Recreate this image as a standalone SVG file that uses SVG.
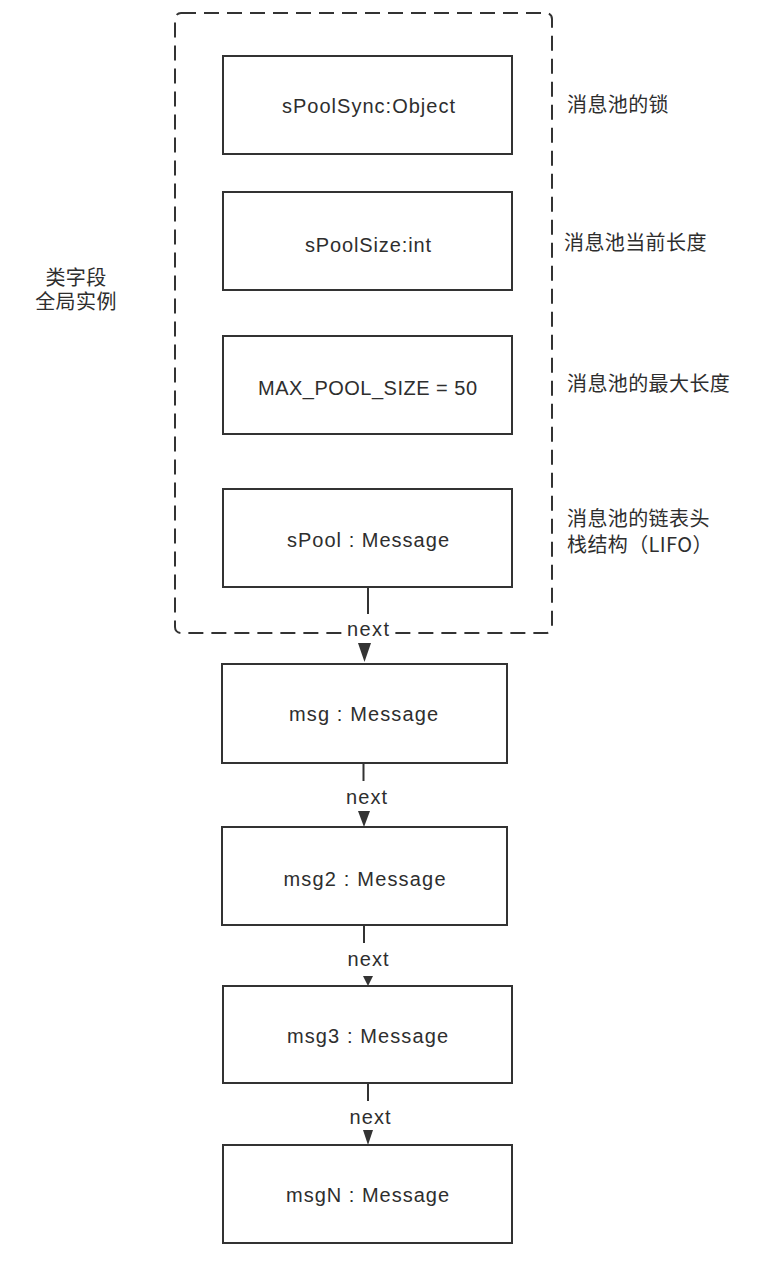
<svg xmlns="http://www.w3.org/2000/svg" width="764" height="1264" viewBox="0 0 764 1264">
  <style>
    .box { fill: #ffffff; stroke: #333333; stroke-width: 2; }
    .group { fill: none; stroke: #333333; stroke-width: 2; stroke-dasharray: 15 8; }
    .lbl { font-family: "Liberation Sans", Arial, "Noto Sans CJK SC", sans-serif; font-size: 20px; fill: #2e2e2e; text-anchor: middle; }
    .cjk { font-family: "Noto Sans CJK SC", "Liberation Sans", sans-serif; font-size: 20px; fill: #2e2e2e; letter-spacing: 0.4px; }
    .edge { stroke: #333333; stroke-width: 2; fill: none; }
    .head { fill: #333333; stroke: none; }
    .elbl { font-family: "Liberation Sans", Arial, sans-serif; font-size: 20px; fill: #2e2e2e; text-anchor: middle; }
  </style>

  <g id="group-class-fields">
    <rect class="group" x="175" y="13" width="377" height="620" rx="6" ry="6"/>
  </g>

  <g id="label-left">
    <text class="cjk" text-anchor="middle"><tspan x="76" y="285">类字段</tspan><tspan x="76" y="309">全局实例</tspan></text>
  </g>

  <g id="node-sPoolSync">
    <rect class="box" x="223" y="56" width="289" height="98"/>
    <text class="lbl" x="368.5" y="113" textLength="173" lengthAdjust="spacing">sPoolSync:Object</text>
  </g>
  <g id="note-sPoolSync">
    <text class="cjk" x="567" y="112">消息池的锁</text>
  </g>

  <g id="node-sPoolSize">
    <rect class="box" x="223" y="192" width="289" height="98"/>
    <text class="lbl" x="368" y="252" textLength="126" lengthAdjust="spacing">sPoolSize:int</text>
  </g>
  <g id="note-sPoolSize">
    <text class="cjk" x="564" y="250">消息池当前长度</text>
  </g>

  <g id="node-max">
    <rect class="box" x="223" y="336" width="289" height="98"/>
    <text class="lbl" x="367.5" y="395" textLength="219" lengthAdjust="spacing">MAX_POOL_SIZE = 50</text>
  </g>
  <g id="note-max">
    <text class="cjk" x="567" y="391">消息池的最大长度</text>
  </g>

  <g id="node-sPool">
    <rect class="box" x="223" y="489" width="289" height="98"/>
    <text class="lbl" x="368" y="547" textLength="162" lengthAdjust="spacing">sPool : Message</text>
  </g>
  <g id="note-sPool">
    <text class="cjk"><tspan x="567" y="526">消息池的链表头</tspan><tspan x="567" y="552">栈结构（LIFO）</tspan></text>
  </g>

  <g id="node-msg">
    <rect class="box" x="222" y="664" width="285" height="99"/>
    <text class="lbl" x="363.5" y="721" textLength="149" lengthAdjust="spacing">msg : Message</text>
  </g>

  <g id="node-msg2">
    <rect class="box" x="222" y="827" width="285" height="98"/>
    <text class="lbl" x="364.5" y="886" textLength="162" lengthAdjust="spacing">msg2 : Message</text>
  </g>

  <g id="node-msg3">
    <rect class="box" x="223" y="986" width="289" height="97"/>
    <text class="lbl" x="367.5" y="1043" textLength="161" lengthAdjust="spacing">msg3 : Message</text>
  </g>

  <g id="node-msgN">
    <rect class="box" x="223" y="1145" width="289" height="98"/>
    <text class="lbl" x="367.5" y="1202" textLength="163" lengthAdjust="spacing">msgN : Message</text>
  </g>

  <g id="connectors">
    <line class="edge" x1="368" y1="587" x2="368" y2="614"/>
    <rect x="345" y="620" width="46" height="16" fill="#ffffff"/>
    <text class="elbl" x="368" y="636" textLength="42" lengthAdjust="spacing">next</text>
    <polygon class="head" points="358,643 371,643 364.5,662"/>

    <line class="edge" x1="363.5" y1="763" x2="363.5" y2="781"/>
    <text class="elbl" x="366.5" y="804" textLength="41" lengthAdjust="spacing">next</text>
    <polygon class="head" points="358,811 370,811 364,827"/>

    <line class="edge" x1="364" y1="925" x2="364" y2="943"/>
    <text class="elbl" x="368" y="966" textLength="41" lengthAdjust="spacing">next</text>
    <polygon class="head" points="363,976 373,976 368,986"/>

    <line class="edge" x1="368" y1="1083" x2="368" y2="1101"/>
    <text class="elbl" x="370" y="1124" textLength="41" lengthAdjust="spacing">next</text>
    <polygon class="head" points="363,1130 373,1130 368,1145"/>
  </g>
</svg>
